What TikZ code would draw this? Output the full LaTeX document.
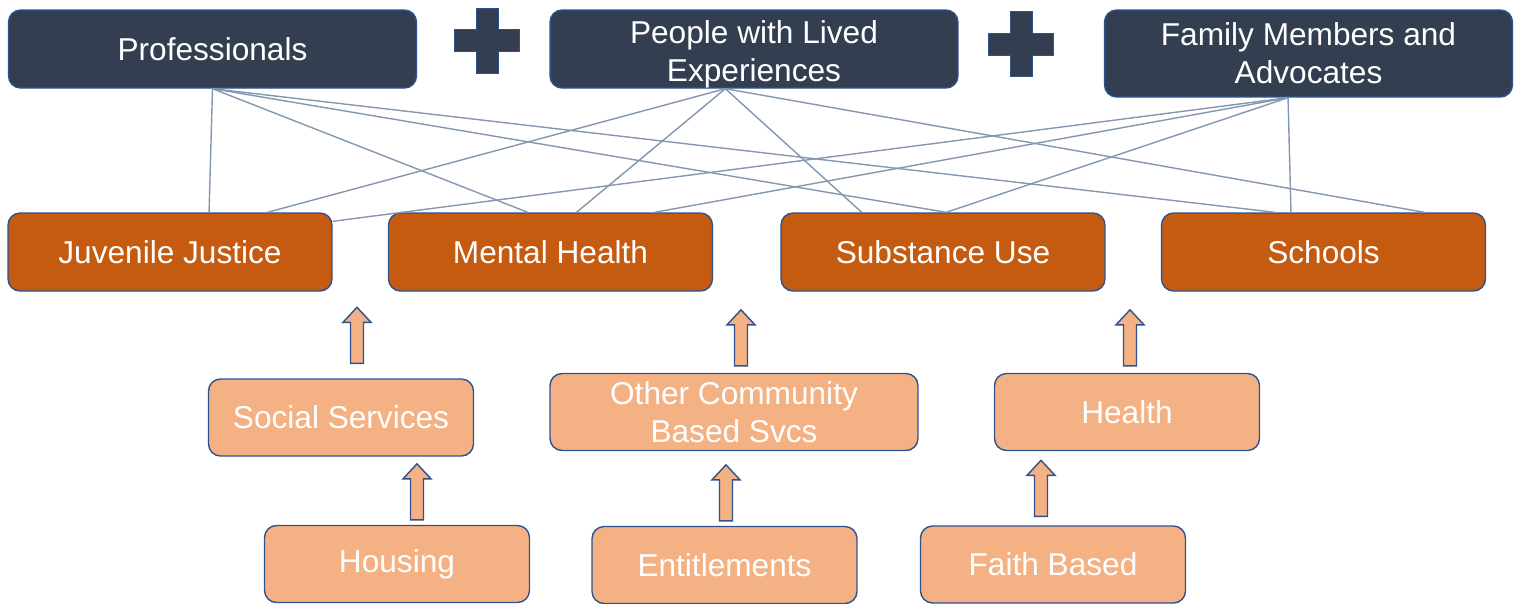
\documentclass[tikz,border=0pt]{standalone}
\usepackage{fontspec}
\setmainfont{Liberation Sans}
\usetikzlibrary{calc}
\definecolor{navy}{HTML}{333F50}
\definecolor{rust}{HTML}{C55A11}
\definecolor{peach}{HTML}{F4B183}
\definecolor{rim}{HTML}{2F528F}
\definecolor{wire}{HTML}{8497B0}

\begin{document}
\begin{tikzpicture}[
    x=0.02cm, y=-0.02cm,
    box/.style={rectangle, draw=rim, line width=0.8pt, rounded corners=0.24cm,
      text=white, align=center, inner sep=0pt,
      font=\fontsize{18}{21.5}\selectfont},
    team/.style={box, fill=navy, minimum width=8.16cm, minimum height=1.56cm},
    field/.style={box, fill=rust, minimum width=6.48cm, minimum height=1.56cm},
    support/.style={box, fill=peach, minimum width=5.3cm, minimum height=1.54cm},
    link/.style={wire, line width=0.8pt},
    lift/.style={draw=rim, fill=peach, line width=0.8pt},
    plussign/.style={draw=rim, fill=navy, line width=0.5pt},
  ]
  \useasboundingbox (0,0) rectangle (1514,603);

  % who is at the table
  \node[team] (prof) at (212.5,49) {Professionals};
  \node[team] (lived) at (754,49) {\rule{0pt}{19pt}People with Lived\\Experiences};
  \node[team, minimum height=1.74cm] (family) at (1308.5,53.5) {Family Members and\\Advocates};

  \foreach \cx/\cy in {487/40.5, 1021/44}
    \draw[plussign, shift={(\cx,\cy)}] (-11,-32.5) -- (11,-32.5) -- (11,-11) -- (32.5,-11)
      -- (32.5,11) -- (11,11) -- (11,32.5) -- (-11,32.5) -- (-11,11) -- (-32.5,11)
      -- (-32.5,-11) -- (-11,-11) -- cycle;

  % systems
  \node[field] (jj) at (170,252) {Juvenile Justice};
  \node[field] (mh) at (550.5,252) {Mental Health};
  \node[field] (su) at (943,252) {Substance Use};
  \node[field] (sch) at (1323.5,252) {Schools};

  % supports
  \node[support] (soc) at (341,417.5) {Social Services};
  \node[support, minimum width=7.36cm] (other) at (734,412) {Other Community\\Based Svcs};
  \node[support] (health) at (1127,412) {Health};
  \node[support] (housing) at (397,564) {Housing};
  \node[support] (entitle) at (724.5,565) {Entitlements};
  \node[support] (faith) at (1053,564.5) {Faith Based};

  \coordinate (lived foot) at ($(lived.south west)!0.43!(lived.south east)$);
  \coordinate (family foot) at ($(family.south west)!0.45!(family.south east)$);

  \draw[link] (prof.south) -- ($(jj.north west)!0.62!(jj.north east)$);
  \draw[link] (prof.south) -- ($(mh.north west)!0.43!(mh.north east)$);
  \draw[link] (prof.south) -- ($(su.north west)!0.51!(su.north east)$);
  \draw[link] (prof.south) -- ($(sch.north west)!0.35!(sch.north east)$);

  \draw[link] (lived foot) -- ($(jj.north west)!0.80!(jj.north east)$);
  \draw[link] (lived foot) -- ($(mh.north west)!0.58!(mh.north east)$);
  \draw[link] (lived foot) -- ($(su.north west)!0.25!(su.north east)$);
  \draw[link] (lived foot) -- ($(sch.north west)!0.81!(sch.north east)$);

  \draw[link] (family foot) -- ($(jj.north east)+(0,9)$);
  \draw[link] (family foot) -- ($(mh.north west)!0.82!(mh.north east)$);
  \draw[link] (family foot) -- ($(su.north west)!0.51!(su.north east)$);
  \draw[link] (family foot) -- ($(sch.north west)!0.40!(sch.north east)$);

  % block arrows up from each support
  \foreach \src/\dx/\gap in {soc/16/15, other/7/7, health/3/7, housing/20/5, entitle/1.5/5, faith/-12/9}
    \draw[lift] ($(\src.north)+(\dx,-\gap)$) -- ++(6.5,0) -- ++(0,-41) -- ++(7.5,0)
      -- ++(-14,-15) -- ++(-14,15) -- ++(7.5,0) -- ++(0,41) -- cycle;
\end{tikzpicture}
\end{document}
